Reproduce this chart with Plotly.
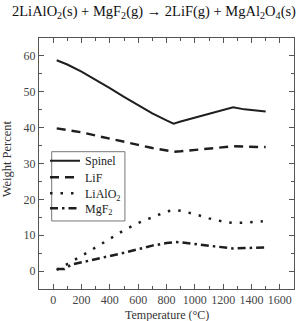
import plotly.graph_objects as go

# ---- data ----
spinel_T = [25, 100, 200, 300, 400, 500, 600, 700, 800, 850, 900, 1000, 1100, 1200, 1270, 1350, 1400, 1500]
spinel_w = [58.8, 57.6, 55.6, 53.4, 51.0, 48.6, 46.2, 44.0, 42.0, 41.1, 41.7, 42.8, 43.9, 44.9, 45.7, 45.1, 44.9, 44.5]

lif_T = [25, 100, 200, 300, 400, 500, 600, 700, 800, 850, 900, 1000, 1100, 1200, 1270, 1350, 1400, 1500]
lif_w = [39.8, 39.4, 38.7, 37.8, 37.0, 36.1, 35.2, 34.3, 33.6, 33.3, 33.4, 33.8, 34.2, 34.6, 34.8, 34.7, 34.6, 34.6]

lialo2_T = [25, 100, 200, 300, 400, 500, 600, 700, 800, 850, 900, 1000, 1100, 1200, 1270, 1350, 1400, 1480]
lialo2_w = [0.3, 1.9, 4.2, 6.6, 9.0, 11.4, 13.4, 15.1, 16.6, 17.0, 16.8, 15.9, 14.7, 13.8, 13.4, 13.5, 13.6, 13.9]

mgf2_T = [25, 80, 130, 200, 300, 400, 500, 600, 700, 800, 860, 900, 1000, 1100, 1200, 1270, 1350, 1400, 1500]
mgf2_w = [0.6, 0.6, 1.8, 2.4, 3.3, 4.2, 5.1, 6.1, 7.1, 7.8, 8.1, 8.0, 7.5, 7.0, 6.5, 6.3, 6.4, 6.5, 6.6]

series_names = ["Spinel", "LiF", "LiAlO<sub>2</sub>", "MgF<sub>2</sub>"]
x_ticks = [0, 200, 400, 600, 800, 1000, 1200, 1400, 1600]
y_ticks = [0, 10, 20, 30, 40, 50, 60]

title_text = "2LiAlO<sub>2</sub>(s) + MgF<sub>2</sub>(g) \u2192 2LiF(g) + MgAl<sub>2</sub>O<sub>4</sub>(s)"
x_title = "Temperature (\u00b0C)"
y_title = "Weight Percent"

# ---- figure ----
FONT = "Liberation Serif"
LC = "#1e1e1e"

styles = [
    dict(color=LC, width=2),
    dict(color=LC, width=2.5, dash="9px,6px"),
    dict(color=LC, width=2.5, dash="2.5px,8px"),
    dict(color=LC, width=2.5, dash="8px,4px,2.5px,4px"),
]
series = [(spinel_T, spinel_w), (lif_T, lif_w), (lialo2_T, lialo2_w), (mgf2_T, mgf2_w)]
legend_ids = ["legend", "legend2", "legend3", "legend4"]

fig = go.Figure()
for (xs, ys), name, st, lg in zip(series, series_names, styles, legend_ids):
    fig.add_trace(go.Scatter(x=xs, y=ys, mode="lines", name=name, line=st, legend=lg))

axis_common = dict(
    showline=True, linecolor="#555", linewidth=1, mirror="ticks",
    ticks="inside", ticklen=5, tickcolor="#555", tickwidth=1,
    showgrid=False, zeroline=False,
    tickfont=dict(family=FONT, size=12, color="#444"),
)

fig.update_xaxes(range=[-100, 1700], tickvals=x_ticks,
                 minor=dict(dtick=100, tick0=0, ticks="inside", ticklen=3, tickcolor="#555", showgrid=False),
                 **axis_common)
fig.update_yaxes(range=[-5, 65], tickvals=y_ticks,
                 minor=dict(dtick=5, tick0=0, ticks="inside", ticklen=3, tickcolor="#555", showgrid=False),
                 **axis_common)

legend_y = [0.511, 0.445, 0.381, 0.3215]
legend_layout = {}
for lg, yy in zip(legend_ids, legend_y):
    legend_layout[lg] = dict(x=0.0235, y=yy, xanchor="left", yanchor="middle",
                             bgcolor="rgba(0,0,0,0)", borderwidth=0, itemwidth=30,
                             font=dict(family=FONT, size=12, color="#222"))

fig.update_layout(
    width=297, height=321,
    margin=dict(l=39, r=3, t=38, b=32),
    paper_bgcolor="white", plot_bgcolor="white",
    font=dict(family=FONT, color="#222"),
    showlegend=True,
    shapes=[dict(type="rect", xref="paper", yref="paper",
                 x0=0.0498, x1=0.337, y0=0.271, y1=0.547,
                 line=dict(color="#777", width=1), fillcolor="white", layer="below")],
    annotations=[
        dict(text=title_text, x=0.45, y=1.104, xref="paper", yref="paper",
             showarrow=False, xanchor="center", yanchor="middle",
             font=dict(family=FONT, size=14.5, color="#111")),
        dict(text=x_title, x=0.5, y=-0.104, xref="paper", yref="paper",
             showarrow=False, xanchor="center", yanchor="middle",
             font=dict(family=FONT, size=12, color="#333")),
        dict(text=y_title, x=-0.122, y=0.52, xref="paper", yref="paper",
             showarrow=False, xanchor="center", yanchor="middle", textangle=-90,
             font=dict(family=FONT, size=12.5, color="#333")),
    ],
    **legend_layout,
)

fig.write_html("out.html")
